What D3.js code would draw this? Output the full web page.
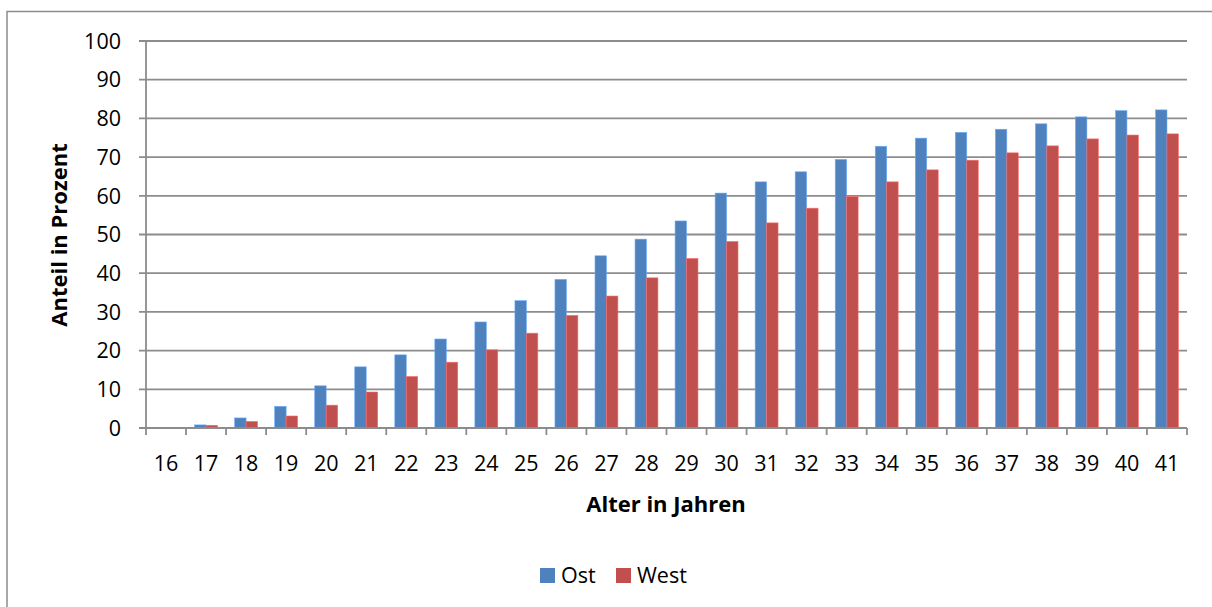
<!DOCTYPE html>
<html>
<head>
<meta charset="utf-8">
<script src="https://cdn.jsdelivr.net/npm/d3@7"></script>
<style>
  body { margin: 0; background: #fff; }
  svg text { font-family: "Open Sans", Lato, sans-serif; fill: #000; }
</style>
</head>
<body>
<div id="chart"></div>
<script>
// Chart data
var ages = ["16","17","18","19","20","21","22","23","24","25","26","27","28","29","30","31","32","33","34","35","36","37","38","39","40","41"];
var ost  = [0, 0.8, 2.6, 5.6, 10.9, 15.8, 18.9, 23.0, 27.4, 32.9, 38.4, 44.5, 48.8, 53.5, 60.7, 63.6, 66.2, 69.4, 72.8, 74.9, 76.4, 77.2, 78.6, 80.4, 82.0, 82.2];
var west = [0, 0.7, 1.7, 3.1, 5.9, 9.3, 13.3, 17.0, 20.2, 24.5, 29.1, 34.1, 38.8, 43.8, 48.2, 53.0, 56.8, 59.8, 63.6, 66.7, 69.2, 71.1, 72.9, 74.7, 75.7, 76.0];
var seriesNames = ["Ost", "West"];
var seriesColors = ["#4F81BD", "#C0504D"];
var yTicks = [0, 10, 20, 30, 40, 50, 60, 70, 80, 90, 100];

var width = 1212, height = 607;
var plot = { left: 146, right: 1187, top: 41, bottom: 428 };
var labelSize = '21.5px';
var titleSize = '22px';

var svg = d3.select('#chart').append('svg')
    .attr('width', width)
    .attr('height', height);

// outer chart border
svg.append('rect')
    .attr('x', 7).attr('y', 11.5)
    .attr('width', width + 10).attr('height', height + 10)
    .attr('fill', 'none')
    .attr('stroke', '#8c8c8c')
    .attr('stroke-width', 1.5);

var x = d3.scaleBand()
    .domain(ages)
    .range([plot.left, plot.right])
    .paddingInner(0)
    .paddingOuter(0);

var barW = x.bandwidth() / 3.5;   // gap width 150%

var y = d3.scaleLinear()
    .domain([0, 100])
    .range([plot.bottom, plot.top]);

// gridlines
svg.append('g')
    .selectAll('line')
    .data(yTicks)
    .join('line')
    .attr('x1', plot.left - 7)
    .attr('x2', plot.right)
    .attr('y1', d => y(d))
    .attr('y2', d => y(d))
    .attr('stroke', '#8c8c8c')
    .attr('stroke-width', 1.8);

// y labels
svg.append('g')
    .selectAll('text')
    .data(yTicks)
    .join('text')
    .attr('x', 121)
    .attr('y', d => y(d))
    .attr('dy', '0.36em')
    .attr('text-anchor', 'end')
    .style('font-size', labelSize)
    .text(d => d);

// bars
var series = [ost, west];
series.forEach(function(vals, s) {
    svg.append('g')
        .selectAll('rect')
        .data(vals)
        .join('rect')
        .attr('x', (d, i) => x(ages[i]) + (x.bandwidth() - 2 * barW) / 2 + s * barW)
        .attr('y', d => y(d))
        .attr('width', barW)
        .attr('height', d => y(0) - y(d))
        .attr('fill', seriesColors[s])
        .attr('stroke', d3.color(seriesColors[s]).brighter(0.8))
        .attr('stroke-width', 0.6);
});

// axes lines
svg.append('line')
    .attr('x1', plot.left).attr('x2', plot.left)
    .attr('y1', plot.top).attr('y2', plot.bottom)
    .attr('stroke', '#8c8c8c').attr('stroke-width', 1.8);

svg.append('line')
    .attr('x1', plot.left).attr('x2', plot.right)
    .attr('y1', plot.bottom).attr('y2', plot.bottom)
    .attr('stroke', '#8c8c8c').attr('stroke-width', 1.8);

// x ticks between categories
var xTickPos = ages.map(d => x(d)).concat([plot.right]);
svg.append('g')
    .selectAll('line')
    .data(xTickPos)
    .join('line')
    .attr('x1', d => d).attr('x2', d => d)
    .attr('y1', plot.bottom).attr('y2', plot.bottom + 7)
    .attr('stroke', '#8c8c8c').attr('stroke-width', 1.8);

// x labels
svg.append('g')
    .selectAll('text')
    .data(ages)
    .join('text')
    .attr('x', d => x(d) + x.bandwidth() / 2)
    .attr('y', 471)
    .attr('text-anchor', 'middle')
    .style('font-size', labelSize)
    .text(d => d);

// axis titles
svg.append('text')
    .attr('x', 666)
    .attr('y', 512)
    .attr('text-anchor', 'middle')
    .style('font-size', titleSize)
    .style('font-weight', 'bold')
    .text('Alter in Jahren');

svg.append('text')
    .attr('transform', 'translate(67,235) rotate(-90)')
    .attr('text-anchor', 'middle')
    .style('font-size', titleSize)
    .style('font-weight', 'bold')
    .text('Anteil in Prozent');

// legend
var legendX = [540, 616];
var legend = svg.append('g')
    .selectAll('g')
    .data(seriesNames)
    .join('g')
    .attr('transform', (d, i) => `translate(${legendX[i]},568)`);

legend.append('rect')
    .attr('width', 15).attr('height', 15)
    .attr('fill', (d, i) => seriesColors[i]);

legend.append('text')
    .attr('x', 21)
    .attr('y', 15)
    .style('font-size', labelSize)
    .text(d => d);
</script>
</body>
</html>
